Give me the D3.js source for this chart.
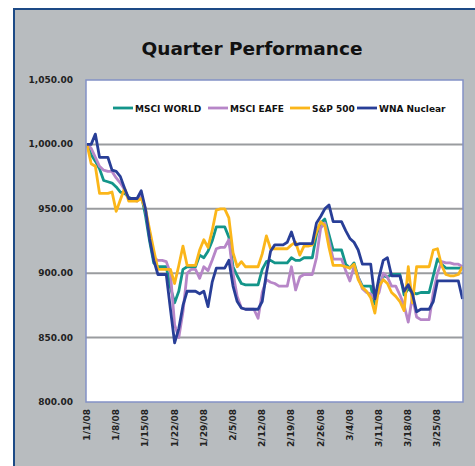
<!DOCTYPE html>
<html>
<head>
<meta charset="utf-8">
<script src="https://cdn.jsdelivr.net/npm/d3@7"></script>
<style>
  body { margin: 0; background: #fff; }
  svg text { font-family: "DejaVu Sans", Verdana, sans-serif; font-weight: bold; }
</style>
</head>
<body>
<div id="chart"></div>
<script>
// one value per calendar day, 1/1/08 .. 3/31/08
var startDate = new Date(2008, 0, 1);

var seriesNames = ["MSCI WORLD", "MSCI EAFE", "S&P 500", "WNA Nuclear"];
var seriesColors = ["#13958a", "#b786c8", "#fbb61a", "#283e97"];

var msciWorld = [1000, 992, 987, 981, 972, 971, 970, 967, 963, 962, 959, 957, 957, 961, 945, 925, 908, 905, 905, 905,
  889, 877, 886, 903, 905, 905, 905, 914, 912, 917, 925, 936, 936, 936, 928, 905, 898, 892, 891, 891,
  891, 891, 903, 909, 910, 908, 908, 908, 908, 912, 910, 910, 912, 912, 912, 930, 939, 942, 930, 918,
  918, 918, 907, 904, 908, 897, 890, 890, 890, 876, 890, 898, 897, 899, 899, 899, 883, 888, 885, 884,
  885, 885, 885, 898, 911, 907, 904, 904, 904, 904, 904];

var msciEafe = [1000, 997, 990, 983, 980, 979, 979, 974, 970, 965, 958, 957, 956, 960, 950, 930, 912, 910, 910, 909,
  900, 860, 850, 870, 900, 903, 903, 896, 905, 902, 910, 919, 920, 920, 926, 900, 882, 873, 872, 872,
  872, 865, 885, 895, 893, 892, 890, 890, 890, 905, 887, 897, 899, 899, 899, 912, 935, 939, 925, 911,
  911, 911, 902, 894, 905, 897, 888, 885, 884, 880, 885, 900, 897, 890, 890, 883, 875, 862, 882, 866,
  864, 864, 864, 885, 900, 909, 908, 908, 907, 907, 905];

var sp500 = [1000, 985, 983, 962, 962, 962, 963, 948, 957, 966, 956, 956, 956, 958, 950, 934, 918, 903, 903, 903,
  903, 892, 906, 921, 906, 906, 906, 918, 926, 920, 933, 949, 950, 950, 943, 916, 905, 909, 905, 905,
  905, 905, 915, 929, 919, 919, 919, 919, 919, 922, 924, 914, 921, 921, 922, 932, 940, 937, 920, 906,
  906, 906, 905, 904, 907, 895, 889, 886, 881, 869, 890, 895, 892, 885, 882, 878, 871, 905, 877, 905,
  905, 905, 905, 918, 919, 906, 899, 898, 898, 899, 905];

var wnaNuclear = [1000, 1000, 1008, 990, 990, 990, 980, 979, 975, 966, 958, 958, 958, 964, 950, 927, 910, 899, 899, 899,
  872, 846, 857, 875, 886, 886, 886, 884, 886, 874, 893, 904, 904, 904, 910, 890, 878, 873, 872, 872,
  872, 872, 878, 900, 917, 922, 922, 922, 924, 932, 922, 923, 923, 923, 923, 939, 944, 950, 953, 940,
  940, 940, 933, 927, 924, 918, 907, 907, 907, 880, 897, 910, 912, 898, 898, 898, 886, 891, 884, 870,
  872, 872, 872, 878, 894, 894, 894, 894, 894, 894, 880];

var yTicks = [800, 850, 900, 950, 1000, 1050];

var width = 475, height = 466;
var plot = {left: 86, top: 80, right: 463, bottom: 402};

var svg = d3.select('#chart').append('svg')
    .attr('width', width)
    .attr('height', height);

// grey panel
svg.append('rect')
    .attr('x', 14).attr('y', 9)
    .attr('width', width).attr('height', height)
    .attr('fill', '#b8bcbf')
    .attr('stroke', '#1d4a86')
    .attr('stroke-width', 2);

svg.append('text')
    .attr('x', 252).attr('y', 55)
    .attr('text-anchor', 'middle')
    .style('font-size', '18.5px')
    .attr('fill', '#111')
    .text('Quarter Performance');

var x = d3.scaleTime()
    .domain([startDate, new Date(2008, 2, 31)])
    .range([plot.left + 1, plot.right - 0.5]);

var y = d3.scaleLinear()
    .domain([800, 1050])
    .range([plot.bottom, plot.top]);

svg.append('rect')
    .attr('x', plot.left).attr('y', plot.top)
    .attr('width', plot.right - plot.left)
    .attr('height', plot.bottom - plot.top)
    .attr('fill', '#fff');

// gridlines
svg.append('g')
  .selectAll('line')
  .data(yTicks.slice(1, -1))
  .enter().append('line')
    .attr('x1', plot.left).attr('x2', plot.right)
    .attr('y1', y).attr('y2', y)
    .attr('stroke', '#9a9c9f')
    .attr('stroke-width', 2);

// y labels
svg.append('g')
  .selectAll('text')
  .data(yTicks)
  .enter().append('text')
    .attr('x', 73)
    .attr('y', function(d) { return y(d) + 3; })
    .attr('text-anchor', 'end')
    .style('font-size', '9px')
    .attr('fill', '#222')
    .text(function(d) { return d3.format(',.2f')(d); });

// x labels, rotated
var fmt = d3.timeFormat('%-m/%-d/%y');
svg.append('g')
  .selectAll('text')
  .data(x.ticks(d3.timeTuesday.every(1)))
  .enter().append('text')
    .attr('transform', function(d) { return 'translate(' + (x(d) + 3) + ',409) rotate(-90)'; })
    .attr('text-anchor', 'end')
    .style('font-size', '9px')
    .attr('fill', '#222')
    .text(function(d) { return fmt(d); });

var allSeries = [msciWorld, msciEafe, sp500, wnaNuclear];

var line = d3.line()
    .x(function(d, i) { return x(d3.timeDay.offset(startDate, i)); })
    .y(function(d) { return y(d); });

svg.append('g')
  .selectAll('path')
  .data(allSeries)
  .enter().append('path')
    .attr('d', line)
    .attr('fill', 'none')
    .attr('stroke', function(d, i) { return seriesColors[i]; })
    .attr('stroke-width', 2.8)
    .attr('stroke-linejoin', 'round');

// plot border on top
svg.append('rect')
    .attr('x', plot.left).attr('y', plot.top)
    .attr('width', plot.right - plot.left)
    .attr('height', plot.bottom - plot.top)
    .attr('fill', 'none')
    .attr('stroke', '#8391c6')
    .attr('stroke-width', 1.5);

// legend
var legendX = [113, 208, 290, 357];
var legend = svg.append('g')
  .selectAll('g')
  .data(seriesNames)
  .enter().append('g')
    .attr('transform', function(d, i) { return 'translate(' + legendX[i] + ',108)'; });

legend.append('line')
    .attr('x1', 0).attr('x2', 20)
    .attr('stroke', function(d, i) { return seriesColors[i]; })
    .attr('stroke-width', 2.8);

legend.append('text')
    .attr('x', 22).attr('y', 3.5)
    .style('font-size', '9px')
    .attr('fill', '#111')
    .text(function(d) { return d; });
</script>
</body>
</html>
